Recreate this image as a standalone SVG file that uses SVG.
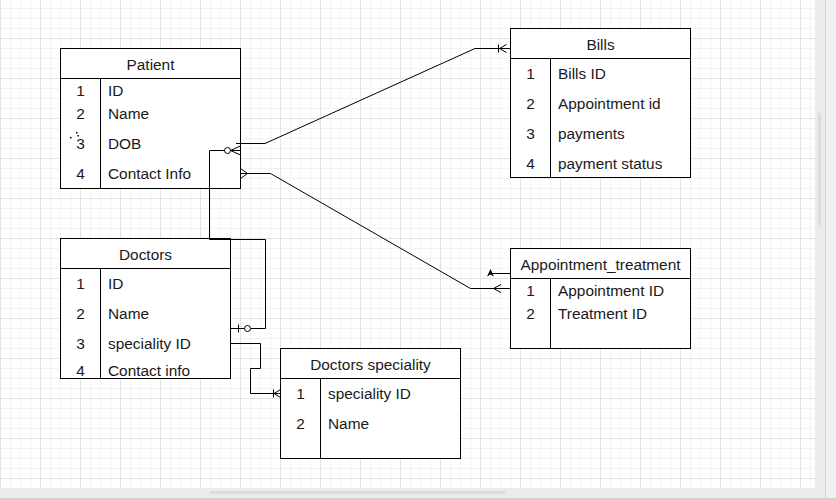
<svg xmlns="http://www.w3.org/2000/svg" width="836" height="499" viewBox="0 0 836 499">
<style>
.box{fill:#fff;stroke:#000;stroke-width:1}
.ln{fill:none;stroke:#000;stroke-width:1}
.t{font-family:"Liberation Sans",Arial,sans-serif;font-size:15.4px;fill:#1a1a1a}
.c{text-anchor:middle}
</style>
<defs>
<pattern id="grid" patternUnits="userSpaceOnUse" x="0" y="-2" width="40" height="40">
<rect width="40" height="40" fill="#fff"/>
<path d="M10.5 0V40M20.5 0V40M30.5 0V40M0 10.5H40M0 20.5H40M0 30.5H40" stroke="#f3f3f3" stroke-width="1"/>
<path d="M0.5 0V40M0 0.5H40" stroke="#e2e2e2" stroke-width="1"/>
</pattern>
</defs>
<rect x="0" y="0" width="836" height="499" fill="#f0f0f2"/>
<rect x="0" y="0" width="815" height="488" fill="url(#grid)"/>
<rect x="815" y="0" width="10" height="499" fill="#ebebeb"/>
<rect x="0" y="488" width="825" height="10" fill="#ebebeb"/>
<line x1="825.5" y1="0" x2="825.5" y2="499" stroke="#d4d4d4"/>
<line x1="0" y1="498.5" x2="836" y2="498.5" stroke="#cfcfcf"/>
<rect x="818" y="113" width="3" height="112" fill="#dcdcdc"/>
<rect x="210" y="491" width="295" height="3" fill="#dcdcdc"/>

<g id="patient">
<rect class="box" x="60.5" y="48.5" width="180" height="140"/>
<path class="ln" d="M60.5 78.5H240.5M100.5 78.5V188.5"/>
<text class="t c" x="150.5" y="70">Patient</text>
<text class="t c" x="80.5" y="96">1</text><text class="t" x="108" y="96">ID</text>
<text class="t c" x="80.5" y="118.5">2</text><text class="t" x="108" y="118.5">Name</text>
<text class="t c" x="80.5" y="148.5">3</text><text class="t" x="108" y="148.5">DOB</text>
<text class="t c" x="80.5" y="178.5">4</text><text class="t" x="108" y="178.5">Contact Info</text>
<rect x="70" y="137" width="1.5" height="1.5" fill="#000"/>
<rect x="76" y="132" width="1.5" height="1.5" fill="#000"/>
<rect x="77.5" y="135" width="1.5" height="1.5" fill="#000"/>
</g>

<g id="doctors">
<rect class="box" x="60.5" y="238.5" width="170" height="140"/>
<path class="ln" d="M60.5 268.5H230.5M100.5 268.5V378.5"/>
<text class="t c" x="145.5" y="260">Doctors</text>
<text class="t c" x="80.5" y="289">1</text><text class="t" x="108" y="289">ID</text>
<text class="t c" x="80.5" y="318.5">2</text><text class="t" x="108" y="318.5">Name</text>
<text class="t c" x="80.5" y="348.5">3</text><text class="t" x="108" y="348.5">speciality ID</text>
<text class="t c" x="80.5" y="376">4</text><text class="t" x="108" y="376">Contact info</text>
</g>

<g id="doctors-speciality">
<rect class="box" x="280.5" y="348.5" width="180" height="110"/>
<path class="ln" d="M280.5 378.5H460.5M320.5 378.5V458.5"/>
<text class="t c" x="370.5" y="370">Doctors speciality</text>
<text class="t c" x="300.5" y="398.5">1</text><text class="t" x="328" y="398.5">speciality ID</text>
<text class="t c" x="300.5" y="428.5">2</text><text class="t" x="328" y="428.5">Name</text>
</g>

<g id="bills">
<rect class="box" x="510.5" y="28.5" width="180" height="149"/>
<path class="ln" d="M510.5 58.5H690.5M550.5 58.5V177.5"/>
<text class="t c" x="600.5" y="49.5">Bills</text>
<text class="t c" x="530.5" y="79">1</text><text class="t" x="558" y="79">Bills ID</text>
<text class="t c" x="530.5" y="109">2</text><text class="t" x="558" y="109">Appointment id</text>
<text class="t c" x="530.5" y="139">3</text><text class="t" x="558" y="139">payments</text>
<text class="t c" x="530.5" y="169">4</text><text class="t" x="558" y="169">payment status</text>
</g>

<g id="appointment-treatment">
<rect class="box" x="510.5" y="248.5" width="180" height="100"/>
<path class="ln" d="M510.5 278.5H690.5M550.5 278.5V348.5"/>
<text class="t c" x="600.5" y="269.5">Appointment_treatment</text>
<text class="t c" x="530.5" y="295.5">1</text><text class="t" x="558" y="295.5">Appointment ID</text>
<text class="t c" x="530.5" y="319">2</text><text class="t" x="558" y="319">Treatment ID</text>
</g>

<g id="connectors">
<!-- Patient - Bills -->
<polyline class="ln" points="236,143.5 265,143.5 475,48.5 510.5,48.5"/>
<path class="ln" d="M498.5 44.5V52.5M499.5 48.5L506.5 44.5M499.5 48.5L506.5 52.5"/>
<!-- Patient - Doctors -->
<polyline class="ln" points="224.5,150.5 209.5,150.5 209.5,239.5 265.5,239.5 265.5,328.5 250.5,328.5"/>
<circle class="ln" cx="227.5" cy="150.5" r="3"/>
<path class="ln" d="M230.5 150.5H240.5M230.5 150.5L240.5 146M230.5 150.5L240.5 155"/>
<circle class="ln" cx="247.5" cy="328.5" r="3"/>
<path class="ln" d="M230.5 328.5H244.5M238.5 324.5V332.5"/>
<!-- Patient - Appointment_treatment -->
<path class="ln" d="M240.5 168.5L247.5 173.5L240.5 178.5"/>
<polyline class="ln" points="240.5,173.5 270.5,173.5 470.5,288.5 510.5,288.5"/>
<path class="ln" d="M501 284.5L493.5 288.5L501 292.5"/>
<line class="ln" x1="490.5" y1="273.5" x2="510.5" y2="273.5"/>
<path d="M490.5 269L487 276.5L490.5 274.5L494 276.5Z" fill="#000"/>
<!-- Doctors - Doctors speciality -->
<polyline class="ln" points="230.5,343.5 260.5,343.5 260.5,368.5 250.5,368.5 250.5,393.5 280.5,393.5"/>
<path class="ln" d="M273.5 389.5V397.5M274 393.5L280.5 389.5M274 393.5L280.5 397.5"/>
</g>
</svg>
